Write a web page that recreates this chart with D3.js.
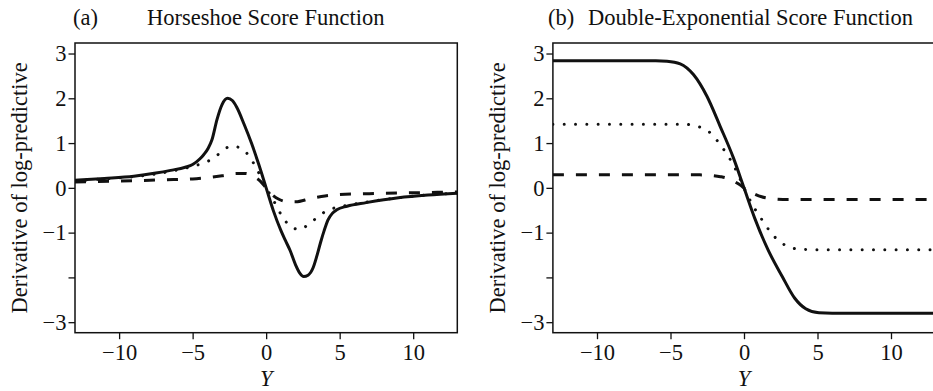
<!DOCTYPE html>
<html>
<head>
<meta charset="utf-8">
<script src="https://cdn.jsdelivr.net/npm/d3@7"></script>
<style>
  html, body { margin: 0; padding: 0; background: #fff; }
  svg { display: block; }
  text { font-family: "Liberation Serif", "Times New Roman", serif; fill: #111; }
</style>
</head>
<body>
<svg id="chart" width="933" height="391"></svg>
<script>
// ---------- DATA ----------
const xTicks = [-10, -5, 0, 5, 10];
const xTickLabels = ["\u221210", "\u22125", "0", "5", "10"];
const yTicks = [3, 2, 1, 0, -1, -2, -3];
const yTickLabels = ["3", "2", "1", "0", "\u22121", "", "\u22123"];

const panelLetters = ["(a)", "(b)"];
const panelTitles = ["Horseshoe Score Function", "Double-Exponential Score Function"];
const yAxisTitle = "Derivative of log-predictive";
const xAxisTitle = "Y";

// Horseshoe score function: [Y, derivative]
const hsSolid = [[-13,0.17],[-11,0.21],[-9,0.26],[-7.5,0.33],[-6.5,0.39],[-5.5,0.46],[-5,0.52],[-4.5,0.65],
  [-4.25,0.74],[-3.95,0.88],[-3.68,1.08],[-3.34,1.53],[-3.0,1.86],[-2.62,2.0],[-2.3,1.95],[-2.0,1.8],[-1.5,1.42],
  [-1.0,1.0],[-0.5,0.52],[0,0],[0.5,-0.52],[1.0,-0.95],[1.3,-1.17],[1.63,-1.4],[2.0,-1.72],[2.3,-1.91],
  [2.55,-1.98],[2.85,-1.95],[3.2,-1.78],[3.45,-1.52],[3.7,-1.22],[3.95,-0.95],[4.2,-0.72],[4.5,-0.57],
  [4.8,-0.49],[5.5,-0.41],[6.8,-0.33],[9,-0.22],[11,-0.16],[13,-0.12]];
const hsDotted = [[-13,0.16],[-11,0.2],[-9,0.25],[-7.5,0.31],[-6.5,0.37],[-5.5,0.44],[-5.0,0.48],[-4.3,0.55],
  [-3.6,0.66],[-3.05,0.8],[-2.4,0.93],[-1.65,0.88],[-1.15,0.7],[-0.68,0.45],[-0.3,0.2],[0,0],[0.4,-0.22],
  [1.06,-0.62],[1.58,-0.84],[2.26,-0.93],[2.94,-0.8],[3.55,-0.64],[4.18,-0.5],[4.9,-0.43],[5.5,-0.39],
  [6.8,-0.32],[9,-0.22],[11,-0.16],[13,-0.12]];
const hsDashed = [[-13,0.13],[-10,0.15],[-7,0.18],[-5,0.2],[-4,0.23],[-3,0.27],[-2,0.32],[-1.4,0.32],
  [-0.9,0.26],[-0.4,0.15],[0,0],[0.4,-0.15],[0.9,-0.26],[1.5,-0.31],[2.0,-0.31],[3,-0.24],[4,-0.18],
  [5,-0.15],[7,-0.13],[10,-0.11],[13,-0.09]];

// Double-exponential score function: [Y, derivative]
const deSolid = [[-13,2.84],[-8,2.84],[-6,2.84],[-5.24,2.83],[-4.34,2.77],[-3.44,2.53],[-2.53,2.05],
  [-1.63,1.38],[-0.72,0.67],[0,0],[0.72,-0.67],[1.63,-1.38],[2.6,-1.98],[3.44,-2.46],[4.2,-2.7],
  [5.1,-2.79],[6,-2.8],[8,-2.8],[13,-2.8]];
const deDotted = [[-13,1.42],[-4,1.42],[-3.4,1.39],[-2.8,1.33],[-2.2,1.2],[-1.7,1.0],[-1.2,0.77],
  [-0.7,0.5],[-0.35,0.26],[0,0],[0.35,-0.24],[0.7,-0.45],[1.04,-0.62],[1.42,-0.81],[1.88,-1.02],
  [2.44,-1.2],[3.12,-1.33],[3.86,-1.37],[4.5,-1.38],[13,-1.38]];
const deDashed = [[-13,0.29],[-3,0.29],[-2.3,0.28],[-1.6,0.25],[-1.1,0.21],[-0.6,0.13],[-0.2,0.05],
  [0,0],[0.4,-0.08],[0.8,-0.15],[1.2,-0.2],[1.6,-0.23],[2.2,-0.25],[3,-0.26],[13,-0.26]];

const panelSeries = [
  [hsSolid, hsDotted, hsDashed],
  [deSolid, deDotted, deDashed]
];
const seriesStyles = ["solid", "dotted", "dashed"];

// ---------- LAYOUT ----------
const svg = d3.select("#chart");
const panels = [
  { left: 75, right: 457.3, ylabX: 26.5 },
  { left: 552.9, right: 935.1, ylabX: 504.5 }
];
const plotTop = 43, plotBottom = 332.7;
const fontSize = 22.5;

const dashFor = {
  solid: null,
  dotted: "0.01 11.3",
  dashed: "11 12"
};

panels.forEach((p, pi) => {
  const x = d3.scaleLinear().domain([-13, 13]).range([p.left, p.right]);
  const y = d3.scaleLinear().domain([-3.235, 3.235]).range([plotBottom, plotTop]);

  const g = svg.append("g");

  const clipId = "clip" + pi;
  svg.append("defs").append("clipPath").attr("id", clipId)
    .append("rect").attr("x", p.left).attr("y", plotTop)
    .attr("width", p.right - p.left).attr("height", plotBottom - plotTop);

  // curves
  const line = d3.line().x(d => x(d[0])).y(d => y(d[1])).curve(d3.curveMonotoneX);
  const cg = g.append("g").attr("clip-path", `url(#${clipId})`);
  panelSeries[pi].forEach((s, si) => {
    const st = seriesStyles[si];
    cg.append("path")
      .attr("d", line(s))
      .attr("fill", "none")
      .attr("stroke", "#111")
      .attr("stroke-width", 3)
      .attr("stroke-linecap", st === "dotted" ? "round" : "butt")
      .attr("stroke-linejoin", "round")
      .attr("stroke-dasharray", dashFor[st]);
  });

  // frame
  g.append("rect")
    .attr("x", p.left).attr("y", plotTop)
    .attr("width", p.right - p.left).attr("height", plotBottom - plotTop)
    .attr("fill", "none").attr("stroke", "#111").attr("stroke-width", 1.5);

  // y axis
  const ya = g.append("g").attr("transform", `translate(${p.left},0)`)
    .call(d3.axisLeft(y).tickValues(yTicks).tickSize(6.5).tickPadding(2)
      .tickFormat((d, i) => yTickLabels[i]));
  ya.select(".domain").remove();
  ya.selectAll("line").attr("stroke", "#111").attr("stroke-width", 1.3);
  ya.selectAll("text").attr("font-size", fontSize).attr("fill", "#111")
    .style("font-family", '"Liberation Serif", serif');

  // x axis
  const xa = g.append("g").attr("transform", `translate(0,${plotBottom})`)
    .call(d3.axisBottom(x).tickValues(xTicks).tickSize(6.5).tickPadding(5)
      .tickFormat((d, i) => xTickLabels[i]));
  xa.select(".domain").remove();
  xa.selectAll("line").attr("stroke", "#111").attr("stroke-width", 1.3);
  xa.selectAll("text").attr("font-size", fontSize).attr("fill", "#111")
    .style("font-family", '"Liberation Serif", serif');

  // axis titles
  g.append("text")
    .attr("transform", `translate(${p.ylabX},${(plotTop + plotBottom) / 2}) rotate(-90)`)
    .attr("text-anchor", "middle")
    .attr("font-size", fontSize)
    .text(yAxisTitle);

  g.append("text")
    .attr("x", x(0)).attr("y", 386)
    .attr("text-anchor", "middle")
    .attr("font-size", fontSize)
    .attr("font-style", "italic")
    .text(xAxisTitle);
});

// titles
const titleLayout = [
  { letterX: 73, titleX: 147 },
  { letterX: 548, titleX: 588 }
];
titleLayout.forEach((t, i) => {
  svg.append("text").attr("x", t.letterX).attr("y", 25)
    .attr("font-size", fontSize).text(panelLetters[i]);
  svg.append("text").attr("x", t.titleX).attr("y", 25)
    .attr("font-size", fontSize).text(panelTitles[i]);
});
</script>
</body>
</html>
